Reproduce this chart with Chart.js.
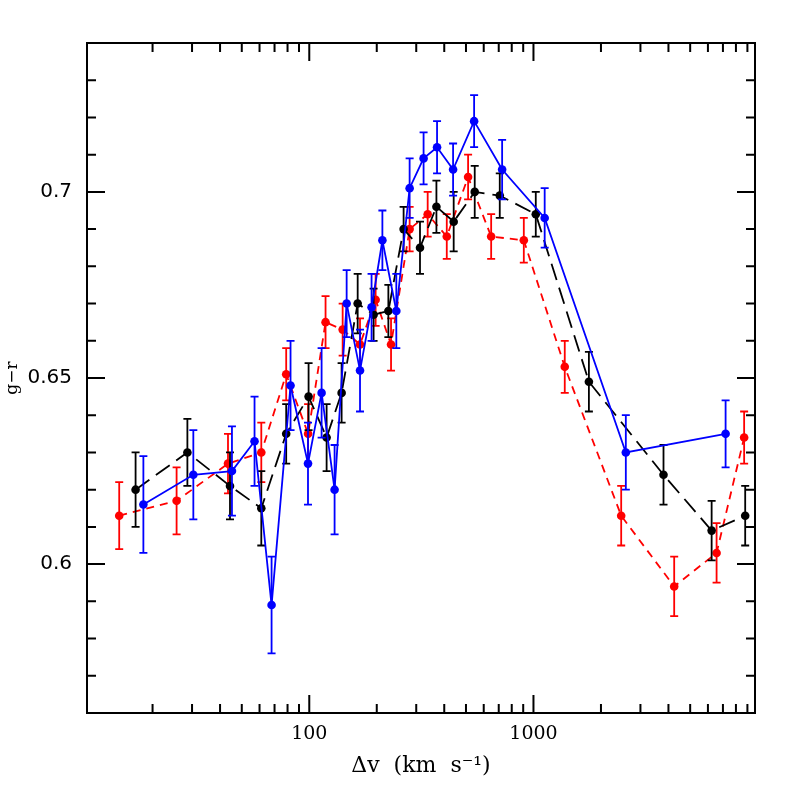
<!DOCTYPE html>
<html>
<head>
<meta charset="utf-8">
<script src="https://cdn.jsdelivr.net/npm/chart.js@4.4.0/dist/chart.umd.min.js"></script>
<style>
body{margin:0;background:#fff}
#wrap{width:797px;height:797px}
</style>
</head>
<body>
<div id="wrap"><canvas id="chart" width="797" height="797"></canvas></div>
<script>
// red sample (short dashes)
const redX   = [14.2, 25.6, 43.4, 61.1, 78.9, 98.8, 118.2, 140.9, 168.4, 197.7, 231.6, 280.3, 337.4, 410.5, 511, 647.6, 905.6, 1379, 2462, 4243, 6558, 8703];
const redY   = [0.613, 0.617, 0.627, 0.630, 0.651, 0.635, 0.665, 0.663, 0.659, 0.671, 0.659, 0.690, 0.694, 0.688, 0.704, 0.688, 0.687, 0.653, 0.613, 0.594, 0.603, 0.634];
const redErr = [0.009, 0.009, 0.008, 0.008, 0.007, 0.008, 0.007, 0.007, 0.007, 0.007, 0.007, 0.006, 0.006, 0.006, 0.006, 0.006, 0.006, 0.007, 0.008, 0.008, 0.008, 0.007];

// black sample (long dashes)
const blackX   = [16.8, 28.6, 44.3, 61.1, 78.9, 99.3, 119.5, 139.4, 164.4, 193.6, 225.3, 263.5, 311.8, 369.1, 440.7, 547, 707.4, 1024, 1767, 3802, 6233, 8798];
const blackY   = [0.620, 0.630, 0.621, 0.615, 0.635, 0.645, 0.634, 0.646, 0.670, 0.667, 0.668, 0.690, 0.685, 0.696, 0.692, 0.700, 0.699, 0.694, 0.649, 0.624, 0.609, 0.613];
const blackErr = [0.010, 0.009, 0.009, 0.010, 0.008, 0.009, 0.009, 0.008, 0.008, 0.007, 0.007, 0.006, 0.007, 0.007, 0.008, 0.007, 0.006, 0.006, 0.008, 0.008, 0.008, 0.008];

// blue sample (solid)
const blueX   = [18.2, 30.4, 45.2, 57.0, 67.9, 82.5, 98.7, 113.5, 129.7, 146.8, 168.4, 189.6, 211.9, 244.5, 280.3, 323.5, 371.5, 438, 543.6, 724.8, 1122, 2582, 7194];
const blueY   = [0.616, 0.624, 0.625, 0.633, 0.589, 0.648, 0.627, 0.646, 0.620, 0.670, 0.652, 0.669, 0.687, 0.668, 0.701, 0.709, 0.712, 0.706, 0.719, 0.706, 0.693, 0.630, 0.635];
const blueErr = [0.013, 0.012, 0.012, 0.012, 0.013, 0.012, 0.011, 0.012, 0.012, 0.009, 0.011, 0.009, 0.008, 0.010, 0.008, 0.007, 0.007, 0.007, 0.007, 0.008, 0.008, 0.010, 0.009];

const xLabelTicks = [100, 1000];
const xMinorTicks = [20, 30, 40, 50, 60, 70, 80, 90, 200, 300, 400, 500, 600, 700, 800, 900, 2000, 3000, 4000, 5000, 6000, 7000, 8000, 9000];
const yLabelTicks = [0.6, 0.65, 0.7];
const yMinorTicks = [0.57, 0.58, 0.59, 0.61, 0.62, 0.63, 0.64, 0.66, 0.67, 0.68, 0.69, 0.71, 0.72, 0.73];

function pts(xs, ys){
    return xs.map((x,i)=>({x:x, y:ys[i]}))
}

const errs = [blueErr, blackErr, redErr]

const boxPlugin = {
    id: "boxPlugin",
    // error bars go under each dataset's own line
    beforeDatasetDraw(chart, args){
        const ds = chart.data.datasets[args.index]
        const e = errs[args.index]
        const xs = chart.scales.x, ys = chart.scales.y
        const ctx = chart.ctx
        ctx.save()
        ctx.strokeStyle = ds.borderColor
        ctx.lineWidth = 1.8
        ctx.setLineDash([])
        ds.data.forEach((p,i)=>{
            const px = xs.getPixelForValue(p.x)
            const t = ys.getPixelForValue(p.y + e[i])
            const b = ys.getPixelForValue(p.y - e[i])
            ctx.beginPath()
            ctx.moveTo(px, t); ctx.lineTo(px, b)
            ctx.moveTo(px-4, t); ctx.lineTo(px+4, t)
            ctx.moveTo(px-4, b); ctx.lineTo(px+4, b)
            ctx.stroke()
        })
        ctx.restore()
    },
    // box + inward ticks on all four sides
    afterDraw(chart){
        const {left, right, top, bottom} = chart.chartArea
        const xs = chart.scales.x, ys = chart.scales.y
        const ctx = chart.ctx
        ctx.save()
        ctx.strokeStyle = "#000"
        ctx.lineWidth = 2
        ctx.setLineDash([])
        ctx.strokeRect(left, top, right-left, bottom-top)
        ctx.beginPath()
        const xt = (v, len)=>{
            const px = xs.getPixelForValue(v)
            ctx.moveTo(px, bottom); ctx.lineTo(px, bottom-len)
            ctx.moveTo(px, top); ctx.lineTo(px, top+len)
        }
        const yt = (v, len)=>{
            const py = ys.getPixelForValue(v)
            ctx.moveTo(left, py); ctx.lineTo(left+len, py)
            ctx.moveTo(right, py); ctx.lineTo(right-len, py)
        }
        xMinorTicks.forEach(v=>xt(v, 9))
        xLabelTicks.forEach(v=>xt(v, 18))
        yMinorTicks.forEach(v=>yt(v, 9))
        yLabelTicks.forEach(v=>yt(v, 18))
        ctx.stroke()
        ctx.restore()
    }
}

new Chart(document.getElementById("chart"), {
    type: "line",
    data: {
        datasets: [
            {data: pts(blueX, blueY), borderColor: "#0000ff", backgroundColor: "#0000ff", borderWidth: 1.8, pointRadius: 4.3, pointBorderWidth: 0, order: 1},
            {data: pts(blackX, blackY), borderColor: "#000000", backgroundColor: "#000000", borderWidth: 1.8, borderDash: [17, 8], pointRadius: 4.3, pointBorderWidth: 0, order: 2},
            {data: pts(redX, redY), borderColor: "#ff0000", backgroundColor: "#ff0000", borderWidth: 1.8, borderDash: [8, 6], pointRadius: 4.3, pointBorderWidth: 0, order: 3}
        ]
    },
    options: {
        responsive: false,
        animation: false,
        layout: {padding: {left: 0, top: 43, right: 42, bottom: 0}},
        plugins: {legend: {display: false}, tooltip: {enabled: false}},
        scales: {
            x: {
                type: "logarithmic",
                min: 10.2,
                max: 9730,
                grid: {display: false, drawTicks: false},
                border: {display: false},
                afterBuildTicks: (s)=>{ s.ticks = xLabelTicks.map(v=>({value: v})) },
                afterFit: (s)=>{ s.height = 84 },
                ticks: {
                    autoSkip: false, maxRotation: 0, padding: 10, color: "#000",
                    font: {family: "DejaVu Serif", size: 19},
                    callback: (v)=>String(v)
                },
                title: {display: true, text: "Δv  (km  s⁻¹)", color: "#000", font: {family: "DejaVu Serif", size: 22}, padding: {bottom: 18}}
            },
            y: {
                min: 0.56,
                max: 0.74,
                grid: {display: false, drawTicks: false},
                border: {display: false},
                afterBuildTicks: (s)=>{ s.ticks = yLabelTicks.map(v=>({value: v})) },
                afterFit: (s)=>{ s.width = 87 },
                ticks: {
                    autoSkip: false, padding: 15, color: "#000",
                    font: {family: "DejaVu Sans", size: 20},
                    callback: (v)=>String(v)
                },
                title: {display: true, text: "g−r", color: "#000", font: {family: "DejaVu Serif", size: 17}, padding: {top: 2}}
            }
        }
    },
    plugins: [boxPlugin]
});
</script>
</body>
</html>
